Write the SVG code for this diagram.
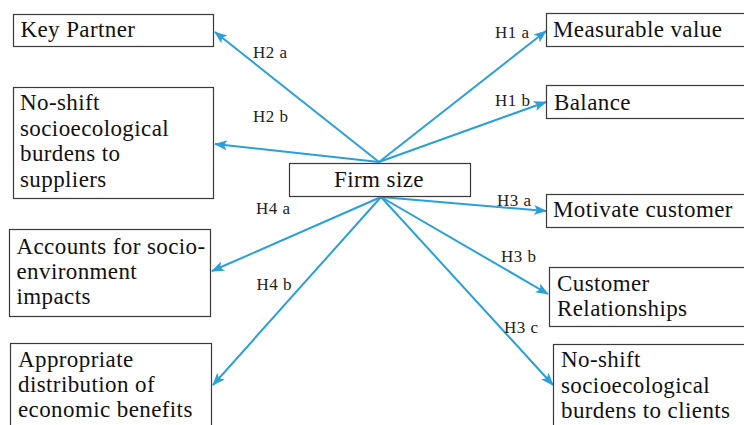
<svg xmlns="http://www.w3.org/2000/svg" width="744" height="425" viewBox="0 0 744 425">
  <style>
    .box { fill: #ffffff; stroke: #3a3a3a; stroke-width: 1.2; }
    .t { font-size: 23px; fill: #111111; letter-spacing: 0.4px; }
    .lbl { font-size: 17px; fill: #222222; letter-spacing: 0.5px; }
    .c { fill: none; stroke: #2a9fda; stroke-width: 2; marker-end: url(#ah); }
  </style>
  <defs>
    <marker id="ah" viewBox="0 0 13 10" markerWidth="13" markerHeight="10" refX="12" refY="5" orient="auto" markerUnits="userSpaceOnUse">
      <path d="M0,0 L13,5 L0,10 L3,5 z" fill="#2a9fda"/>
    </marker>
  </defs>
  <rect width="744" height="425" fill="#ffffff"/>

  <g id="connectors">
    <line class="c" x1="379" y1="162" x2="215" y2="32"/>
    <line class="c" x1="379" y1="162" x2="215" y2="144"/>
    <line class="c" x1="379" y1="162" x2="546" y2="31"/>
    <line class="c" x1="379" y1="162" x2="546" y2="102"/>
    <line class="c" x1="381" y1="197" x2="546" y2="211"/>
    <line class="c" x1="381" y1="197" x2="548" y2="294"/>
    <line class="c" x1="381" y1="197" x2="553" y2="385"/>
    <line class="c" x1="381" y1="197" x2="212" y2="271"/>
    <line class="c" x1="381" y1="197" x2="213" y2="385"/>
  </g>

  <g id="edge-labels" font-family="'Liberation Serif', 'Times New Roman', 'DejaVu Serif', serif">
    <text class="lbl" x="253" y="58">H2 a</text>
    <text class="lbl" x="253" y="122">H2 b</text>
    <text class="lbl" x="495" y="38">H1 a</text>
    <text class="lbl" x="495" y="106">H1 b</text>
    <text class="lbl" x="497" y="205.5">H3 a</text>
    <text class="lbl" x="256" y="214">H4 a</text>
    <text class="lbl" x="256.5" y="290">H4 b</text>
    <text class="lbl" x="501" y="262">H3 b</text>
    <text class="lbl" x="504" y="333">H3 c</text>
  </g>

  <g id="nodes" font-family="'Liberation Serif', 'Times New Roman', 'DejaVu Serif', serif">
  <g id="firm-size">
    <rect class="box" x="289.5" y="163.5" width="181" height="33"/>
    <text class="t" x="379" y="187.3" text-anchor="middle">Firm size</text>
  </g>

  <g id="key-partner">
    <rect class="box" x="13.5" y="14.5" width="200" height="32"/>
    <text class="t" x="20.5" y="37.3">Key Partner</text>
  </g>

  <g id="no-shift-suppliers">
    <rect class="box" x="13.5" y="87.5" width="200" height="111"/>
    <text class="t" x="20" y="110">No-shift</text>
    <text class="t" x="20" y="135.6">socioecological</text>
    <text class="t" x="20" y="161.2">burdens to</text>
    <text class="t" x="20" y="186.8">suppliers</text>
  </g>

  <g id="accounts">
    <rect class="box" x="9.5" y="229.5" width="201" height="87"/>
    <text class="t" x="16.5" y="254">Accounts for socio-</text>
    <text class="t" x="16.5" y="279">environment</text>
    <text class="t" x="16.5" y="304">impacts</text>
  </g>

  <g id="appropriate-distribution">
    <rect class="box" x="10.5" y="343.5" width="201" height="100"/>
    <text class="t" x="18" y="367">Appropriate</text>
    <text class="t" x="18" y="392">distribution of</text>
    <text class="t" x="18" y="417">economic benefits</text>
  </g>

  <g id="measurable-value">
    <rect class="box" x="546.5" y="13.5" width="210" height="33"/>
    <text class="t" x="553" y="36.7">Measurable value</text>
  </g>

  <g id="balance">
    <rect class="box" x="546.5" y="85.5" width="210" height="33"/>
    <text class="t" x="554" y="110">Balance</text>
  </g>

  <g id="motivate-customer">
    <rect class="box" x="546.5" y="194.5" width="210" height="33"/>
    <text class="t" x="553" y="216.7">Motivate customer</text>
  </g>

  <g id="customer-relationships">
    <rect class="box" x="549.5" y="267.5" width="210" height="59"/>
    <text class="t" x="557" y="291">Customer</text>
    <text class="t" x="557" y="316">Relationships</text>
  </g>

  <g id="no-shift-clients">
    <rect class="box" x="553.5" y="344.5" width="210" height="100"/>
    <text class="t" x="561" y="367">No-shift</text>
    <text class="t" x="561" y="393">socioecological</text>
    <text class="t" x="561" y="418">burdens to clients</text>
  </g>
  </g>
</svg>
